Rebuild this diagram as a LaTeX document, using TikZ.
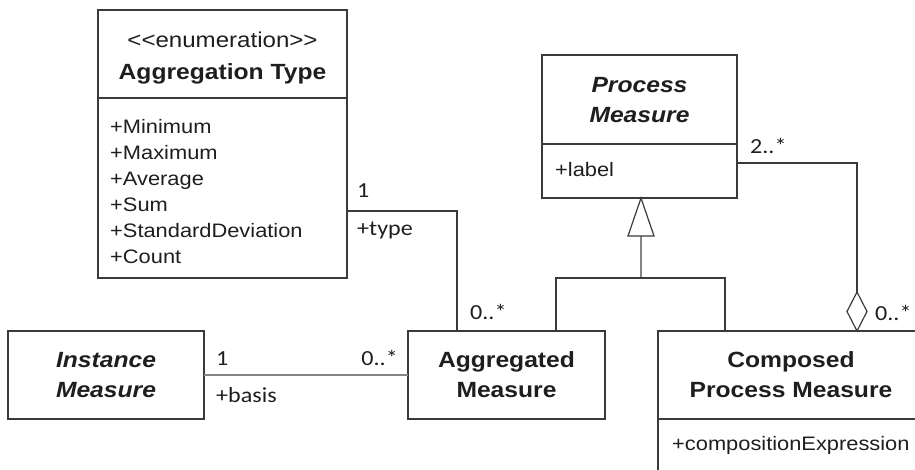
\documentclass[tikz,border=0pt]{standalone}
\usepackage{fontspec}
\setmainfont{Liberation Sans}[FakeStretch=1.12]
\newfontfamily\rolefont{Carlito}[FakeStretch=1.12]
\usetikzlibrary{calc}

\definecolor{ink}{HTML}{1E1E1E}
\definecolor{edge}{HTML}{3A3A3A}
\definecolor{soft}{HTML}{858585}

\tikzset{
  classbox/.style={draw=edge, line width=1.3pt, inner sep=0pt, outer sep=0pt, anchor=north west},
  conn/.style={draw=edge, line width=1.2pt},
  softconn/.style={draw=soft, line width=1.6pt},
  title/.style={font=\fontsize{22}{30}\selectfont\bfseries, text=ink, inner sep=0pt, anchor=base},
  abstitle/.style={font=\fontsize{22}{30}\selectfont\bfseries\itshape, text=ink, inner sep=0pt, anchor=base},
  stereo/.style={font=\fontsize{21.5}{30}\selectfont, text=ink, inner sep=0pt, anchor=base},
  attr/.style={font=\fontsize{19.5}{26}\selectfont, text=ink, inner sep=0pt, anchor=base west},
  role/.style={font=\rolefont\fontsize{21.5}{26}\selectfont, text=ink, inner sep=0pt, anchor=base west},
  roleR/.style={role, anchor=base east},
}

\begin{document}
\begin{tikzpicture}[x=1pt, y=-1pt]
\useasboundingbox (0,0) rectangle (915,469);
\clip (0,0) rectangle (915,469);

% ---------- class boxes ----------
\node[classbox, minimum width=249pt, minimum height=268pt] (aggtype) at (98,10) {};
\node[classbox, minimum width=195pt, minimum height=143pt] (pm) at (542,55) {};
\node[classbox, minimum width=196pt, minimum height=88pt] (im) at (8,331) {};
\node[classbox, minimum width=197pt, minimum height=88pt] (aggm) at (408,331) {};
\node[classbox, minimum width=266pt, minimum height=170pt] (cpm) at (658,331) {};

% compartment separators
\coordinate (sepA) at (0,98);
\coordinate (sepP) at (0,144);
\coordinate (sepC) at (0,419);
\draw[conn, line width=1.3pt] (aggtype.west |- sepA) -- (aggtype.east |- sepA);
\draw[conn, line width=1.3pt] (pm.west |- sepP) -- (pm.east |- sepP);
\draw[conn, line width=1.3pt] (cpm.west |- sepC) -- (cpm.east |- sepC);

% ---------- Aggregation Type ----------
\node[stereo] (aggst) at (222.5,47) {{<}{<}enumeration{>}{>}};
\node[title] (aggname) at (222.5,79) {Aggregation Type};
\node[attr] (lit1) at (110,133) {+Minimum};
\node[attr] (lit2) at (110,159) {+Maximum};
\node[attr] (lit3) at (110,185) {+Average};
\node[attr] (lit4) at (110,211) {+Sum};
\node[attr] (lit5) at (110,237) {+StandardDeviation};
\node[attr] (lit6) at (110,263) {+Count};

% ---------- Process Measure ----------
\node[abstitle] (pmname1) at (639.5,92) {Process};
\node[abstitle] (pmname2) at (639.5,122) {Measure};
\node[attr] (pmattr) at (555,176.5) {+label};

% ---------- Instance Measure ----------
\node[abstitle] (imname1) at (106,367.5) {Instance};
\node[abstitle] (imname2) at (106,397.5) {Measure};

% ---------- Aggregated Measure ----------
\node[title] (amname1) at (506.5,367.5) {Aggregated};
\node[title] (amname2) at (506.5,397.5) {Measure};

% ---------- Composed Process Measure ----------
\node[title] (cpmname1) at (791,367) {Composed};
\node[title] (cpmname2) at (791,397) {Process Measure};
\node[attr] (cpmattr) at (672,450.5) {+compositionExpression};

% ---------- association: type ----------
\coordinate (typeY) at (0,211);
\coordinate (typeX) at (457,0);
\draw[conn] (aggtype.east |- typeY) -| (aggm.north -| typeX);
\node[role] (typeone) at (357,197) {1};
\node[role] (typerole) at (357,235) {+type};
\node[role] (typemany) at (470,319) {0..*};

% ---------- association: basis ----------
\draw[softconn] (im.east) -- (aggm.west);
\node[role] (basisone) at (216,365) {1};
\node[roleR] (basismany) at (398,365) {0..*};
\node[role] (basisrole) at (216,402) {+basis};

% ---------- generalization ----------
\coordinate (gtip) at (641,198);
\coordinate (gbase) at (641,236);
\coordinate (gjoin) at (641,278);
\coordinate (gleft) at (556,278);
\coordinate (gright) at (725,278);
\draw[softconn] (gbase) -- (gjoin);
\draw[conn] (aggm.north -| gleft) -- (gleft) -- (gright) -- (cpm.north -| gright);
\draw[conn, fill=white, line join=miter] (gtip) -- ($(gbase)+(-13,0)$) -- ($(gbase)+(13,0)$) -- cycle;

% ---------- aggregation (diamond) ----------
\coordinate (partY) at (0,163);
\coordinate (dtop) at (857,292);
\coordinate (dbot) at (cpm.north -| dtop);
\draw[conn] (pm.east |- partY) -| (dtop);
\draw[conn, fill=white] (dtop) -- ($(dtop)!0.5!(dbot)+(10,0)$) -- (dbot) -- ($(dtop)!0.5!(dbot)+(-10,0)$) -- cycle;
\node[role] (partmany) at (750,153) {2..*};
\node[role] (wholemany) at (875,320) {0..*};
\end{tikzpicture}
\end{document}
